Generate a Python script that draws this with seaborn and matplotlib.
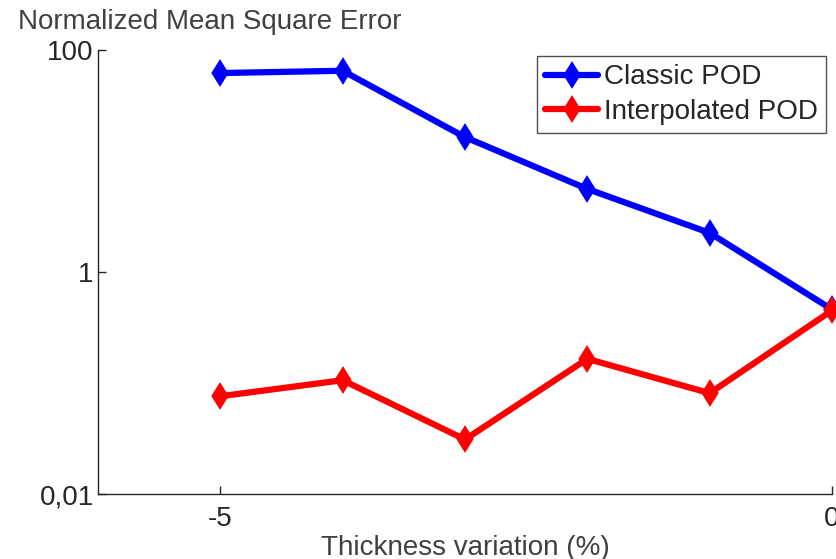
import matplotlib
matplotlib.use("Agg")
import matplotlib.pyplot as plt
import seaborn as sns
import pandas as pd

thickness = [-5, -4, -3, -2, -1, 0]
classic_pod = [62, 65, 16.4, 5.6, 2.25, 0.46]
interp_pod = [0.076, 0.106, 0.031, 0.165, 0.081, 0.45]
series_names = ["Classic POD", "Interpolated POD"]
yticks = [0.01, 1, 100]
ytick_labels = ["0,01", "1", "100"]
xticks = [-5, 0]
xtick_labels = ["-5", "0"]

sns.set_theme(style="white")
plt.rcParams['font.family'] = ['Liberation Sans', 'DejaVu Sans']

df = pd.DataFrame({
    "x": thickness * 2,
    "y": classic_pod + interp_pod,
    "series": [series_names[0]] * 6 + [series_names[1]] * 6,
})

fig = plt.figure(figsize=(8.36, 5.59), dpi=100)
ax = fig.add_axes([98/836, 65/559, (832-98)/836, (494-50)/559])

sns.lineplot(data=df, x="x", y="y", hue="series", palette=["#0000ff", "#ff0000"],
             marker="d", markersize=8, markeredgewidth=4.5, linewidth=4.5,
             ax=ax, clip_on=False, legend=True)
for ln in ax.lines:
    ln.set_markeredgecolor(ln.get_color())

ax.set_yscale("log")
ax.set_ylim(0.01, 100)
ax.set_xlim(-6, 0)
ax.set_yticks(yticks)
ax.set_yticklabels(ytick_labels)
ax.set_xticks(xticks)
ax.set_xticklabels(xtick_labels)
ax.minorticks_off()
ax.tick_params(axis="both", direction="in", length=6, width=1, colors="#262626",
               labelsize=20, left=True, bottom=True)
ax.tick_params(axis="x", pad=9)
ax.tick_params(axis="y", pad=3)
for s in ["top", "right"]:
    ax.spines[s].set_visible(False)
for s in ["left", "bottom"]:
    ax.spines[s].set_color("#262626")
    ax.spines[s].set_linewidth(1)

ax.set_xlabel("Thickness variation (%)", fontsize=20, color="#404040", labelpad=2)
ax.set_ylabel("")
fig.text(18/836, 1 - 22/559, "Normalized Mean Square Error", fontsize=20,
         color="#404040", ha="left", va="center")

leg = ax.legend(loc="upper right", bbox_to_anchor=(826/836, 1 - 56/559),
                bbox_transform=fig.transFigure, fontsize=20, frameon=True,
                fancybox=False, edgecolor="#262626", handlelength=1.9,
                borderpad=0.3, labelspacing=0.3, handletextpad=0.2, borderaxespad=0)
leg.get_frame().set_linewidth(1)
for t in leg.get_texts():
    t.set_color("#262626")

fig.savefig("out.png", dpi=100)
